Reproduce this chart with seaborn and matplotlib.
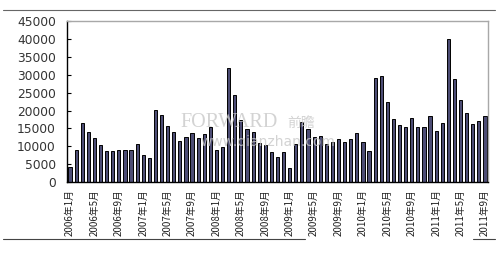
import matplotlib
matplotlib.use("Agg")
import matplotlib.pyplot as plt
import seaborn as sns
import pandas as pd
import numpy as np

# ---- data ----
years = [2006, 2007, 2008, 2009, 2010, 2011]
values = [
    4300, 9000, 16400, 13900, 12200, 10500, 8600, 8700, 8900, 8900, 8900, 10600,   # 2006
    7500, 6700, 20100, 18800, 15800, 13900, 11600, 12500, 13700, 12400, 13400, 15300,  # 2007
    8900, 9900, 32000, 24200, 17400, 14800, 14100, 10900, 10500, 8300, 6900, 8500,  # 2008
    3900, 10700, 16800, 14700, 12700, 13000, 10600, 11100, 12100, 11300, 11900, 13700,  # 2009
    11300, 8700, 29200, 29600, 22300, 17700, 16000, 15500, 17900, 15400, 15500, 18500,  # 2010
    14200, 16500, 40100, 28700, 22800, 19300, 16300, 17200, 18500,  # 2011 (Jan-Sep)
]
months = [f"{y}年{m}月" for y in years for m in range(1, 13)][:len(values)]
y_ticks = [0, 5000, 10000, 15000, 20000, 25000, 30000, 35000, 40000, 45000]

df = pd.DataFrame({"month": months, "value": values})

sns.set_theme(style="white")
plt.rcParams['font.family'] = ['Noto Sans CJK SC', 'DejaVu Sans']

fig = plt.figure(figsize=(5.0, 2.73), dpi=100)
ax = fig.add_axes([0.134, 0.333, 0.842, 0.590])

sns.barplot(data=df, x="month", y="value", color="#4D4D75", saturation=1,
            edgecolor="black", linewidth=0.7, width=0.52, ax=ax)

ax.set_ylim(0, 45000)
ax.set_xlim(-0.5, len(values) - 0.5)
ax.set_yticks(y_ticks)
ax.set_yticklabels([str(v) for v in y_ticks], fontfamily="DejaVu Sans",
                   fontsize=8.8, color="#333333")
tick_pos = list(range(0, len(values), 4))
ax.set_xticks(tick_pos)
ax.set_xticklabels([months[i] for i in tick_pos], rotation=90, fontsize=7,
                   color="#222222")
ax.set_xlabel("")
ax.set_ylabel("")
ax.tick_params(axis="y", direction="in", length=3, width=0.8, color="black",
               pad=8, left=True)
ax.tick_params(axis="x", length=0, pad=5)

for s in ["top", "right"]:
    ax.spines[s].set_color("#A8A8A8")
    ax.spines[s].set_linewidth(1.0)
for s in ["left", "bottom"]:
    ax.spines[s].set_color("black")
    ax.spines[s].set_linewidth(1.0)

# watermark
fig.text(0.36, 0.55, "FORWARD", fontsize=14.5, family="Liberation Serif",
         color="#C8C8C8", alpha=0.8, ha="left", va="center")
fig.text(0.575, 0.55, "前瞻", fontsize=10, family="Noto Sans CJK SC",
         color="#C8C8C8", alpha=0.8, ha="left", va="center")
fig.text(0.40, 0.48, "www.qianzhan.com", fontsize=10, family="DejaVu Sans",
         color="#C8C8C8", alpha=0.8, ha="left", va="center")

# decorative rules above and below the chart
fig.add_artist(plt.Line2D([0.006, 0.99], [1 - 10 / 273, 1 - 10 / 273],
                          color="#666666", lw=0.8, transform=fig.transFigure))
fig.add_artist(plt.Line2D([0.006, 0.61], [1 - 239 / 273, 1 - 239 / 273],
                          color="#444444", lw=0.8, transform=fig.transFigure))
fig.add_artist(plt.Line2D([0.945, 0.99], [1 - 239 / 273, 1 - 239 / 273],
                          color="#444444", lw=0.8, transform=fig.transFigure))

fig.savefig("out.png", dpi=100)
